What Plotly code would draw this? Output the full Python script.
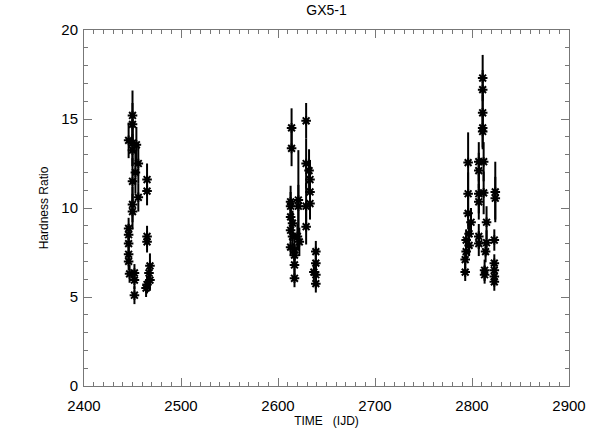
import plotly.graph_objects as go

time = [
    2450, 2450, 2446, 2450, 2454, 2450, 2456, 2453, 2450, 2465, 2465, 2456,
    2450, 2450, 2446, 2446, 2446, 2465, 2465, 2446, 2446, 2447, 2452, 2452,
    2452, 2468, 2467, 2468, 2464, 2465,
    2614, 2614, 2629, 2629, 2632, 2633, 2633, 2633, 2629, 2629, 2621, 2621,
    2613, 2613, 2613, 2615, 2613, 2615, 2613, 2617, 2617, 2617, 2617, 2622,
    2620, 2639, 2639, 2637, 2639, 2639,
    2811, 2811, 2811, 2811, 2811, 2807, 2812, 2807, 2796, 2796, 2807, 2812,
    2807, 2824, 2824, 2796, 2799, 2797, 2794, 2797, 2794, 2793, 2793, 2807,
    2807, 2815, 2815, 2814, 2823, 2813, 2813, 2823, 2823, 2823, 2823,
]
hardness = [
    15.2, 14.7, 13.8, 13.65, 13.55, 13.25, 12.5, 12.0, 11.5, 11.6, 10.95, 10.6,
    10.2, 9.8, 8.85, 8.5, 8.0, 8.4, 8.1, 7.4, 7.0, 6.3, 6.35, 5.95,
    5.1, 6.75, 6.35, 5.95, 5.5, 5.7,
    14.5, 13.35, 14.9, 12.5, 12.1, 11.6, 10.9, 10.25, 10.1, 8.95, 10.45, 10.1,
    10.35, 10.1, 9.5, 9.15, 8.75, 8.4, 7.8, 7.65, 7.35, 6.8, 6.05, 8.1,
    8.4, 7.55, 6.9, 6.4, 6.25, 5.75,
    17.3, 16.65, 15.35, 14.5, 14.3, 12.6, 12.6, 12.1, 12.55, 10.8, 10.8, 10.85,
    10.35, 10.9, 10.55, 9.7, 9.2, 8.55, 8.2, 7.9, 7.55, 7.1, 6.4, 8.4,
    8.0, 9.2, 8.05, 7.55, 8.2, 6.5, 6.25, 6.9, 6.5, 6.15, 5.85,
]
error = [
    1.4, 1.2, 1.0, 1.3, 1.0, 0.9, 1.1, 1.2, 1.3, 0.9, 0.8, 0.8,
    1.0, 1.0, 0.6, 0.6, 0.5, 0.6, 0.6, 0.5, 0.5, 0.5, 0.5, 0.5,
    0.5, 0.7, 0.5, 0.6, 0.5, 0.5,
    1.1, 1.0, 1.0, 1.4, 1.2, 1.1, 1.0, 0.9, 1.3, 1.0, 2.8, 1.2,
    0.9, 0.8, 0.7, 0.7, 0.6, 0.6, 0.5, 0.6, 0.6, 0.6, 0.5, 0.8,
    0.7, 0.6, 0.6, 0.5, 0.5, 0.5,
    1.3, 1.1, 1.0, 1.1, 1.0, 1.1, 1.1, 1.0, 1.7, 1.2, 1.1, 1.2,
    1.0, 1.7, 1.2, 0.9, 0.8, 0.7, 0.6, 0.6, 0.6, 0.5, 0.5, 0.7,
    0.7, 0.9, 0.7, 0.6, 0.6, 0.6, 0.5, 0.5, 0.5, 0.5, 0.5,
]

fig = go.Figure()
fig.add_trace(go.Scatter(
    x=time, y=hardness, mode="markers",
    error_y=dict(type="data", array=error, visible=True, color="black",
                 thickness=2, width=0),
    marker=dict(symbol="asterisk-open", size=8, color="black",
                line=dict(color="black", width=2)),
    showlegend=False,
))

font = "Liberation Sans, Arial, sans-serif"
fig.update_layout(
    width=598, height=441,
    margin=dict(l=84, r=21, t=30, b=55),
    paper_bgcolor="white", plot_bgcolor="white",
    font=dict(family=font, size=14, color="black"),
    title=dict(text="GX5-1", x=0.5, xanchor="center", xref="paper",
               y=1 - 10 / 441, yref="container", yanchor="middle",
               font=dict(size=14, family=font)),
    xaxis=dict(range=[2400, 2900], dtick=100, tick0=2400,
               showgrid=False, zeroline=False,
               showline=True, linecolor="#777", linewidth=1, mirror="ticks",
               ticks="inside", ticklen=8, tickcolor="#777",
               minor=dict(dtick=10, ticks="inside", ticklen=4, tickcolor="#777"),
               title=dict(text="TIME   (IJD)", font=dict(size=12), standoff=2),
               tickfont=dict(size=15), ticklabelstandoff=6),
    yaxis=dict(range=[0, 20], dtick=5, tick0=0,
               showgrid=False, zeroline=False,
               showline=True, linecolor="#777", linewidth=1, mirror="ticks",
               ticks="inside", ticklen=8, tickcolor="#777",
               minor=dict(dtick=1, ticks="inside", ticklen=4, tickcolor="#777"),
               title=dict(text="Hardness Ratio", font=dict(size=12), standoff=10),
               tickfont=dict(size=15), ticklabelstandoff=2),
)

fig.write_html("out.html", config={"displayModeBar": False},
               post_script="document.body.style.margin='0';")
